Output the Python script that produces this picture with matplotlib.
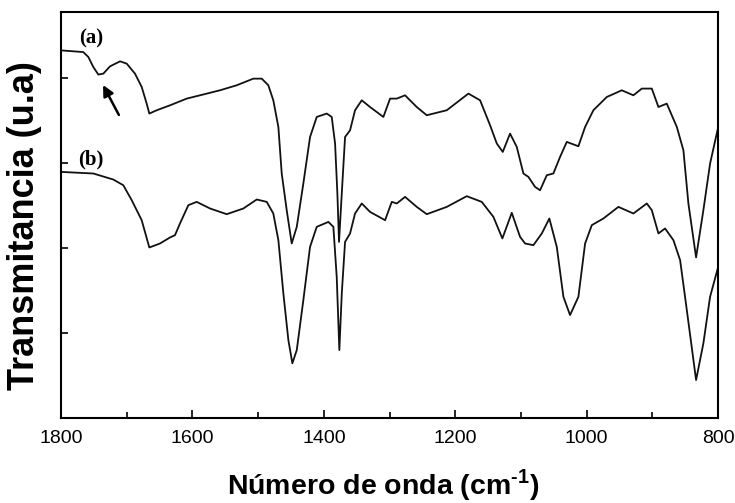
import numpy as np
import matplotlib
matplotlib.use("Agg")
import matplotlib.pyplot as plt
from matplotlib.ticker import MultipleLocator

plt.rcParams["mathtext.fontset"] = "custom"
plt.rcParams["mathtext.rm"] = "Liberation Sans:bold"
plt.rcParams["mathtext.bf"] = "Liberation Sans:bold"

# Spectrum (a)
wn_a = [1800, 1766.1, 1758.4, 1750.8, 1743.2, 1735.6, 1725.4, 1710.2, 1700.0, 1687.4,
        1677.2, 1669.6, 1665.6, 1654.3, 1634.1, 1608.7, 1588.4, 1558.0, 1532.6, 1507.3,
        1494.5, 1484.5, 1476.9, 1469.2, 1464.1, 1456.5, 1448.9, 1441.2, 1431.2, 1421.0,
        1410.8, 1395.6, 1388.0, 1382.9, 1379.4, 1376.9, 1372.7, 1367.7, 1360.1, 1352.5,
        1342.3, 1329.7, 1309.4, 1299.2, 1289.0, 1276.4, 1258.6, 1243.4, 1212.9, 1180.0,
        1162.2, 1147.0, 1136.8, 1127.7, 1116.6, 1106.4, 1096.3, 1088.7, 1078.5, 1070.9,
        1060.7, 1050.7, 1040.5, 1030.3, 1012.6, 1002.4, 989.8, 969.4, 946.6, 928.9,
        916.1, 900.9, 890.8, 878.1, 862.8, 852.8, 845.2, 833.5, 822.4, 812.2, 800]
t_a = [4.329, 4.309, 4.251, 4.133, 4.044, 4.055, 4.141, 4.200, 4.173, 4.055,
       3.898, 3.702, 3.585, 3.624, 3.682, 3.761, 3.800, 3.859, 3.918, 3.996,
       3.996, 3.918, 3.741, 3.427, 2.879, 2.447, 2.055, 2.251, 2.761, 3.309,
       3.545, 3.585, 3.545, 3.232, 2.644, 2.074, 2.644, 3.309, 3.388, 3.624,
       3.741, 3.662, 3.545, 3.761, 3.761, 3.800, 3.662, 3.565, 3.624, 3.820,
       3.741, 3.447, 3.232, 3.133, 3.349, 3.192, 2.879, 2.839, 2.721, 2.682,
       2.859, 2.879, 3.074, 3.251, 3.200, 3.427, 3.624, 3.780, 3.859, 3.800,
       3.879, 3.879, 3.662, 3.702, 3.427, 3.153, 2.526, 1.891, 2.447, 2.996, 3.42]

# Spectrum (b)
wn_b = [1800, 1750.8, 1720.4, 1705.2, 1692.4, 1677.2, 1665.6, 1649.3, 1634.1, 1626.5,
        1618.9, 1606.2, 1593.5, 1573.2, 1547.8, 1522.5, 1502.1, 1486.9, 1476.9, 1469.2,
        1461.6, 1454.0, 1447.9, 1441.2, 1431.2, 1421.0, 1410.8, 1393.1, 1385.5, 1380.4,
        1376.4, 1372.7, 1367.7, 1360.1, 1352.5, 1342.3, 1329.7, 1306.8, 1296.6, 1289.0,
        1276.4, 1258.6, 1243.4, 1212.9, 1182.5, 1159.7, 1142.0, 1128.3, 1114.0, 1101.4,
        1093.7, 1081.1, 1068.3, 1056.8, 1045.5, 1035.4, 1025.3, 1012.6, 1002.4, 992.2,
        974.6, 951.7, 928.9, 908.5, 900.9, 890.8, 880.7, 868.0, 857.8, 847.6,
        833.5, 822.4, 812.2, 800]
t_b = [2.898, 2.879, 2.808, 2.741, 2.565, 2.329, 2.008, 2.055, 2.126, 2.153,
       2.291, 2.506, 2.545, 2.467, 2.400, 2.467, 2.573, 2.545, 2.408, 2.094,
       1.467, 0.918, 0.644, 0.800, 1.388, 2.015, 2.251, 2.309, 2.251, 1.662,
       0.800, 1.467, 2.074, 2.173, 2.408, 2.526, 2.427, 2.329, 2.545, 2.526,
       2.604, 2.486, 2.400, 2.486, 2.612, 2.545, 2.369, 2.114, 2.416, 2.133,
       2.055, 2.035, 2.173, 2.349, 2.015, 1.427, 1.212, 1.427, 2.055, 2.271,
       2.349, 2.486, 2.408, 2.526, 2.447, 2.173, 2.232, 2.094, 1.859, 1.271,
       0.447, 0.879, 1.427, 1.776]

x_ticks = [1800, 1600, 1400, 1200, 1000, 800]
y_ticks = [1, 2, 3, 4]

fig = plt.figure(figsize=(7.35, 5.03), dpi=100)
ax = fig.add_axes([0.083, 0.169, 0.894, 0.807])

ax.plot(wn_a, t_a, color="#111111", lw=1.3, solid_joinstyle="round")
ax.plot(wn_b, t_b, color="#111111", lw=1.3, solid_joinstyle="round")

ax.set_xlim(1800, 800)
ax.set_ylim(0, 4.78)
ax.set_xticks(x_ticks)
ax.xaxis.set_minor_locator(MultipleLocator(100))
ax.set_yticks(y_ticks)
ax.set_yticklabels([])
ax.tick_params(axis="both", which="both", direction="in", width=1.2)
ax.tick_params(axis="x", which="major", length=6, labelsize=14, pad=9)
ax.tick_params(axis="x", which="minor", length=4)
ax.tick_params(axis="y", which="major", length=5)
for lab in ax.get_xticklabels():
    lab.set_family("Liberation Sans")
for s in ax.spines.values():
    s.set_linewidth(1.5)

ax.set_xlabel(r"Número de onda (cm$^{\text{-1}}$)", fontsize=20.5, fontweight="bold",
              family="Liberation Sans")
ax.xaxis.set_label_coords(0.49, -0.12)
ax.set_ylabel("Transmitancia (u.a)", fontsize=26, fontweight="bold",
              family="Liberation Sans")
ax.yaxis.set_label_coords(-0.029, 0.475)

ax.text(1754, 4.47, "(a)", fontsize=15, fontweight="bold", family="Liberation Serif",
        ha="center", va="center")
ax.text(1754, 3.04, "(b)", fontsize=15, fontweight="bold", family="Liberation Serif",
        ha="center", va="center")
ax.annotate("", xy=(1738, 3.95), xytext=(1710, 3.54),
            arrowprops=dict(arrowstyle="-|>", color="black", lw=1.8, mutation_scale=16))

fig.savefig("out.png", dpi=100)
